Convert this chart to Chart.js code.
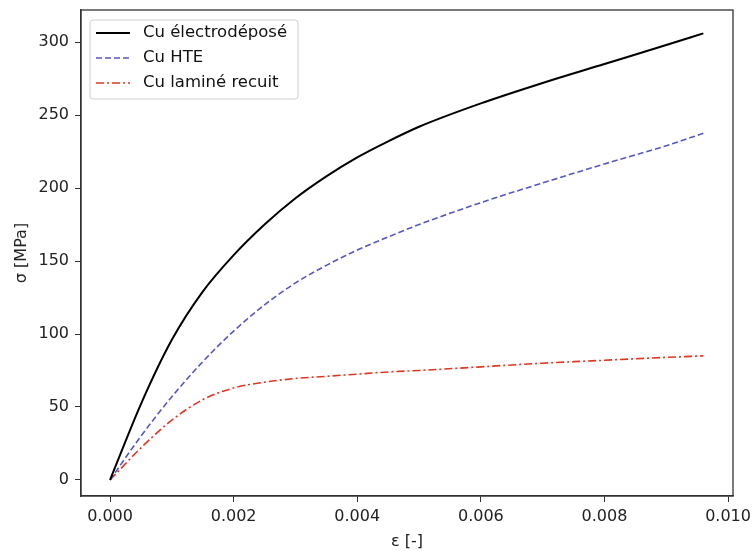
<!DOCTYPE html>
<html>
<head>
<meta charset="utf-8">
<script src="https://cdn.jsdelivr.net/npm/chart.js@4"></script>
<style>
  html, body { margin: 0; padding: 0; background: #fff; }
  #wrap { width: 753px; height: 551px; }
</style>
</head>
<body>
<div id="wrap"><canvas id="myChart" width="753" height="551"></canvas></div>
<script>
'use strict';

// strain values (x) shared by the three curves
var strain = [0, 0.0005, 0.001, 0.0015, 0.002, 0.0025, 0.003, 0.0035, 0.004, 0.0045, 0.005, 0.006, 0.007, 0.008, 0.009, 0.0096];
var cuElectro = [0, 52, 96, 129, 154, 175, 193, 208, 221, 232, 242, 258, 272, 285, 298, 306];
var cuHTE = [0, 30, 57, 81, 102, 120, 135, 147, 157.5, 166.5, 175, 190, 203.5, 216.5, 229, 237.5];
var cuLamine = [0, 22, 41, 55, 63, 67, 69.5, 71, 72.5, 74, 75, 77.5, 80, 82, 84, 85];

var seriesNames = ['Cu électrodéposé', 'Cu HTE', 'Cu laminé recuit'];
var xTicks = [0, 0.002, 0.004, 0.006, 0.008, 0.010];
var yTicks = [0, 50, 100, 150, 200, 250, 300];

var FONT = 'DejaVu Sans';

function toPoints(ys) {
	var pts = [];
	for (var i = 0; i < strain.length; i++) {
		pts.push({x: strain[i], y: ys[i]});
	}
	return pts;
}

// frame around the plot + matplotlib-like legend box inside the axes
var framePlugin = {
	id: 'frame',
	afterDatasetsDraw: function(chart) {
		var ctx = chart.ctx;
		var a = chart.chartArea;
		ctx.save();
		ctx.strokeStyle = '#333';
		ctx.lineWidth = 1.3;
		ctx.strokeRect(a.left, a.top, a.right - a.left, a.bottom - a.top);

		// legend
		var x0 = a.left + 9, y0 = a.top + 10, w = 208, h = 79;
		ctx.fillStyle = 'rgba(255,255,255,0.85)';
		ctx.strokeStyle = '#d0d0d0';
		ctx.lineWidth = 1;
		ctx.beginPath();
		ctx.roundRect(x0, y0, w, h, 3);
		ctx.fill();
		ctx.stroke();
		ctx.font = '16.5px ' + FONT;
		ctx.textBaseline = 'middle';
		chart.data.datasets.forEach(function(ds, i) {
			var yy = y0 + 13 + i * 25;
			ctx.strokeStyle = ds.borderColor;
			ctx.lineWidth = ds.borderWidth;
			ctx.setLineDash(ds.borderDash || []);
			ctx.beginPath();
			ctx.moveTo(x0 + 6, yy);
			ctx.lineTo(x0 + 40, yy);
			ctx.stroke();
			ctx.setLineDash([]);
			ctx.fillStyle = '#111';
			ctx.fillText(ds.label, x0 + 53, yy);
		});
		ctx.restore();
	}
};

var ctx = document.getElementById('myChart');
var myChart = new Chart(ctx, {
	type: 'scatter',
	data: {
		datasets: [{
			label: seriesNames[0],
			data: toPoints(cuElectro),
			borderColor: '#000000',
			borderWidth: 2,
			showLine: true,
			pointRadius: 0,
			cubicInterpolationMode: 'monotone'
		}, {
			label: seriesNames[1],
			data: toPoints(cuHTE),
			borderColor: '#5656c4',
			borderWidth: 1.6,
			borderDash: [6, 3],
			showLine: true,
			pointRadius: 0,
			cubicInterpolationMode: 'monotone'
		}, {
			label: seriesNames[2],
			data: toPoints(cuLamine),
			borderColor: '#e2361f',
			borderWidth: 1.6,
			borderDash: [8, 3, 2, 3],
			showLine: true,
			pointRadius: 0,
			cubicInterpolationMode: 'monotone'
		}]
	},
	options: {
		responsive: false,
		animation: false,
		layout: { padding: { left: 0, right: 20, top: 10, bottom: 0 } },
		plugins: {
			legend: { display: false },
			tooltip: { enabled: false }
		},
		scales: {
			x: {
				type: 'linear',
				min: -0.00047,
				max: 0.01008,
				afterBuildTicks: function(axis) {
					axis.ticks = xTicks.map(function(v) { return {value: v}; });
				},
				afterFit: function(axis) {
					axis.height = 55;
					axis.paddingLeft = 0;
					axis.paddingRight = 0;
				},
				grid: { drawOnChartArea: false, drawTicks: true, tickLength: 6, tickColor: '#333' },
				border: { display: true, color: '#333', width: 1.3 },
				ticks: {
					color: '#222',
					font: { family: FONT, size: 16 },
					padding: 5,
					maxRotation: 0,
					callback: function(v) { return v.toFixed(3); }
				},
				title: {
					display: true,
					text: 'ε [-]',
					color: '#222',
					font: { family: FONT, size: 16 },
					padding: { top: 0, bottom: 0 }
				}
			},
			y: {
				type: 'linear',
				min: -11,
				max: 322,
				afterBuildTicks: function(axis) {
					axis.ticks = yTicks.map(function(v) { return {value: v}; });
				},
				afterFit: function(axis) {
					axis.width = 81;
					axis.paddingTop = 0;
					axis.paddingBottom = 0;
				},
				grid: { drawOnChartArea: false, drawTicks: true, tickLength: 6, tickColor: '#333' },
				border: { display: true, color: '#333', width: 1.3 },
				ticks: {
					color: '#222',
					font: { family: FONT, size: 16 },
					padding: 6
				},
				title: {
					display: true,
					text: 'σ [MPa]',
					color: '#222',
					font: { family: FONT, size: 16 },
					padding: { top: 12, bottom: 4 }
				}
			}
		}
	},
	plugins: [framePlugin]
});
</script>
</body>
</html>
